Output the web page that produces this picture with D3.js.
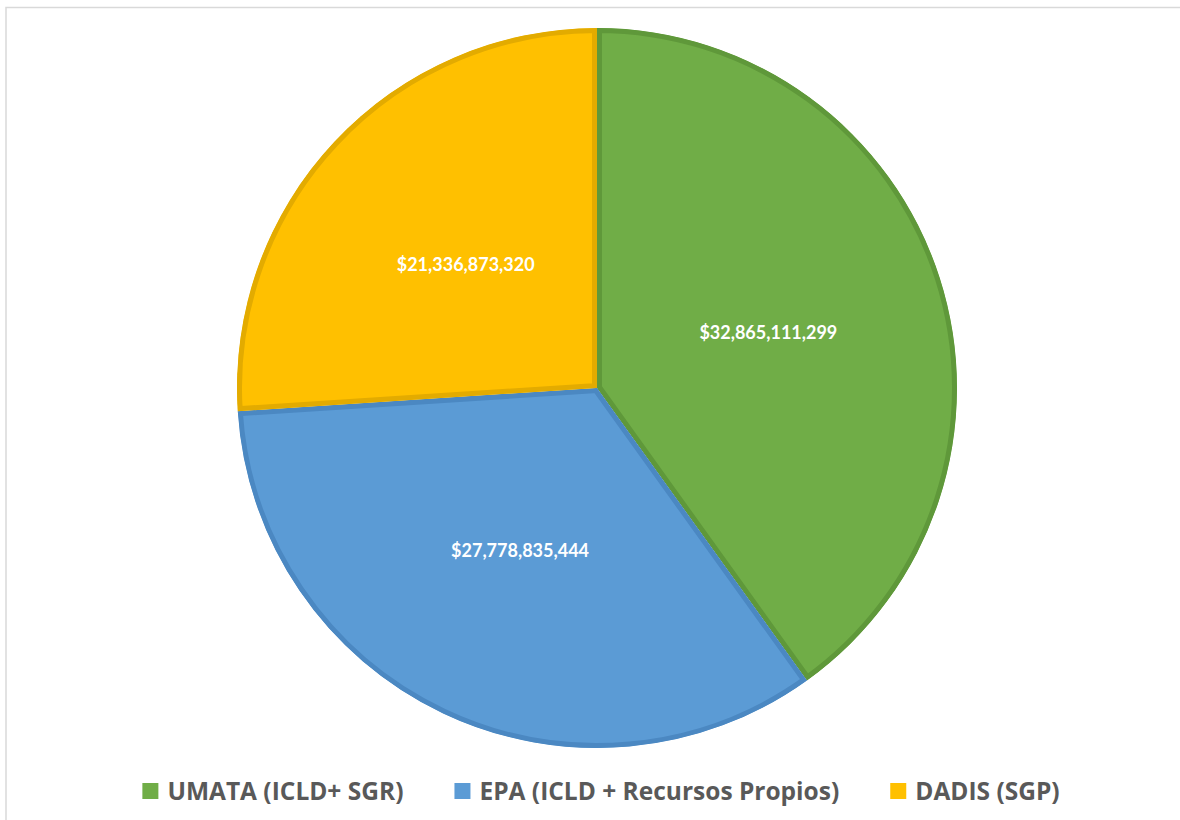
<!DOCTYPE html>
<html lang="en">
  <head>
    <meta charset="utf-8" />
    <script src="https://d3js.org/d3.v7.min.js"></script>
    <style>
      body { margin: 0; background: #fff; }
      svg text { font-weight: 700; }
      .label { font-family: "Lato", sans-serif; }
      .legend text { font-family: "Open Sans", sans-serif; }
    </style>
  </head>
  <body>
    <svg id="PieVis" width="1180" height="820"></svg>
    <script>
      // data
      const categories = ["UMATA (ICLD+ SGR)", "EPA (ICLD + Recursos Propios)", "DADIS (SGP)"];
      const values = [32865111299, 27778835444, 21336873320];
      const fills = ["#70ad47", "#5b9bd5", "#ffc000"];
      const strokes = ["#5f983a", "#4b88c2", "#e3ab00"];

      const svg = d3.select("svg#PieVis");
      const width = +svg.attr("width");
      const height = +svg.attr("height");

      // chart frame
      svg.append("rect")
        .attr("x", 6).attr("y", 7.5)
        .attr("width", width).attr("height", height)
        .attr("fill", "none")
        .attr("stroke", "#d9d9d9")
        .attr("stroke-width", 1.5);

      const cx = 597, cy = 388, radius = 360;
      const data = categories.map((c, i) => ({name: c, value: values[i], fill: fills[i], stroke: strokes[i]}));

      const pie = d3.pie().value(d => d.value).sort(null);
      const arc = d3.arc().innerRadius(0).outerRadius(radius);
      const arcs = pie(data);

      const defs = svg.append("defs");
      defs.selectAll("clipPath")
        .data(arcs)
        .join("clipPath")
        .attr("id", (d, i) => "clip" + i)
        .append("path")
        .attr("d", arc);

      const pieArea = svg.append("g").attr("transform", "translate(" + cx + "," + cy + ")");

      pieArea.selectAll("path.slice")
        .data(arcs)
        .join("path")
        .attr("class", "slice")
        .attr("d", arc)
        .attr("fill", d => d.data.fill)
        .attr("stroke", d => d.data.stroke)
        .attr("stroke-width", 10)
        .attr("stroke-linejoin", "miter")
        .attr("clip-path", (d, i) => "url(#clip" + i + ")");

      const fmt = d3.format(",");
      pieArea.selectAll("text.label")
        .data(arcs)
        .join("text")
        .attr("class", "label")
        .attr("transform", d => "translate(" + arc.centroid(d) + ")")
        .attr("text-anchor", "middle")
        .attr("dy", "0.35em")
        .attr("fill", "#ffffff")
        .style("font-size", "18px")
        .text(d => "$" + fmt(d.data.value));

      // legend
      const legend = svg.append("g").attr("class", "legend");
      const sq = 16, gapText = 9, gapItem = 51, legendY = 791;
      const items = legend.selectAll("g.item")
        .data(data)
        .join("g")
        .attr("class", "item");
      items.append("rect")
        .attr("width", sq).attr("height", sq)
        .attr("y", legendY - sq / 2)
        .attr("fill", d => d.fill);
      items.append("text")
        .attr("x", sq + gapText)
        .attr("y", legendY)
        .attr("dy", "0.35em")
        .attr("fill", "#595959")
        .style("font-size", "24.5px")
        .text(d => d.name);

      let widths = [];
      items.each(function() {
        widths.push(sq + gapText + d3.select(this).select("text").node().getComputedTextLength());
      });
      const total = d3.sum(widths) + gapItem * (widths.length - 1);
      let x = 601 - total / 2;
      items.attr("transform", (d, i) => {
        const t = "translate(" + x + ",0)";
        x += widths[i] + gapItem;
        return t;
      });
    </script>
  </body>
</html>
